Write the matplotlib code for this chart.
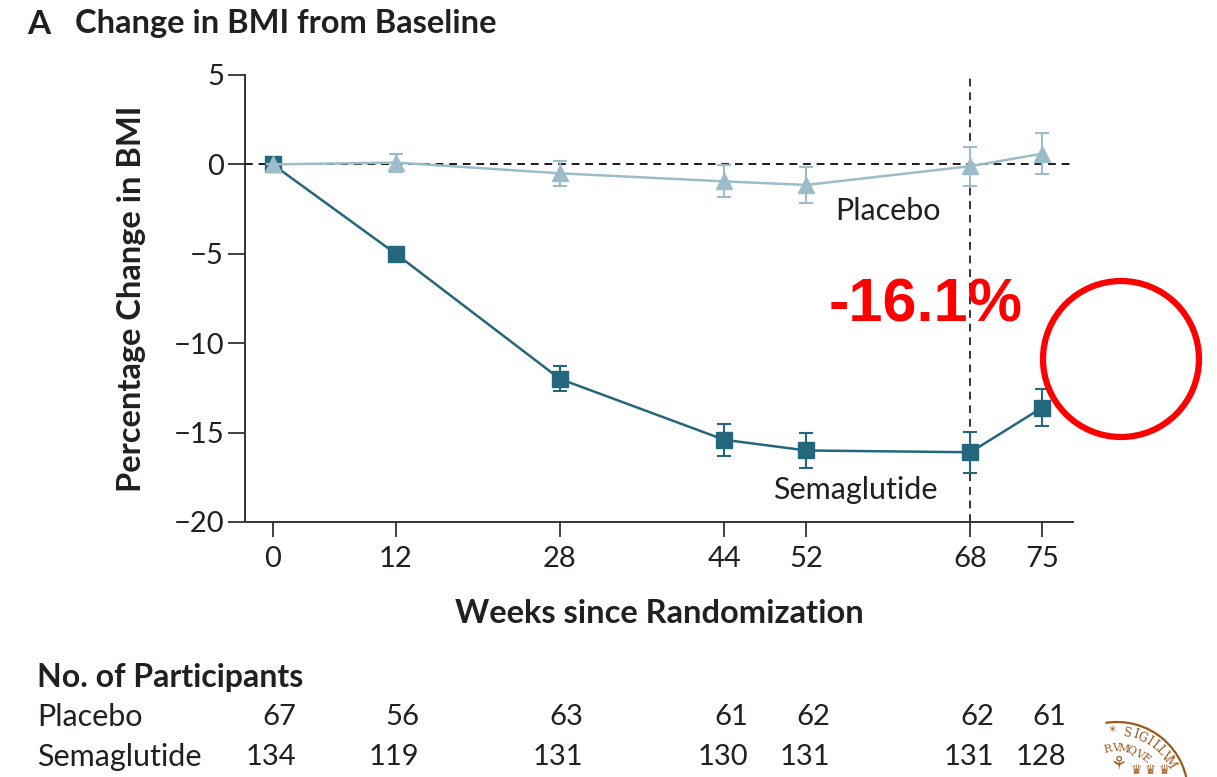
import numpy as np
import matplotlib
matplotlib.use("Agg")
import matplotlib.pyplot as plt
from matplotlib.patches import Ellipse, Arc
from matplotlib.transforms import blended_transform_factory

plt.rcParams['font.family'] = ['Lato', 'DejaVu Sans']

# Mean percentage change in BMI (with error bars) by visit week
weeks = [0, 12, 28, 44, 52, 68, 75]
placebo_mean = [0.0, 0.1, -0.5, -0.95, -1.15, -0.1, 0.6]
placebo_err = [0.0, 0.5, 0.7, 0.9, 1.0, 1.1, 1.15]
sema_mean = [0.0, -5.0, -12.0, -15.4, -16.0, -16.1, -13.6]
sema_err = [0.0, 0.3, 0.7, 0.9, 1.0, 1.15, 1.05]

# Participants at each visit
placebo_n = [67, 56, 63, 61, 62, 62, 61]
sema_n = [134, 119, 131, 130, 131, 131, 128]

yticks = [5, 0, -5, -10, -15, -20]
highlight_label = "-16.1%"

TXT = '#231f20'
SEMA_C = '#24667c'
PLAC_C = '#9bbcc8'

W, H = 1217, 777
fig = plt.figure(figsize=(W / 100, H / 100), dpi=100)
ax = fig.add_axes([0.2013, 0.3282, 0.6804, 0.5753])

ax.axhline(0, color='#1a1a1a', lw=1.4, ls=(0, (4, 3)), zorder=1)
ax.axvline(68, color='#333333', lw=1.4, ls=(0, (4, 3)), zorder=1)

ax.errorbar(weeks, sema_mean, yerr=sema_err, fmt='-s', color=SEMA_C,
            ms=11, lw=1.8, elinewidth=1.5, capsize=5, capthick=1.5, zorder=3)
ax.errorbar(weeks, placebo_mean, yerr=placebo_err, fmt='-^', color=PLAC_C,
            ms=12, lw=1.8, elinewidth=1.5, capsize=5, capthick=1.5, zorder=4)

ax.set_xlim(-2.7, 78.0)
ax.set_ylim(-20, 5)
ax.set_xticks(weeks)
ax.set_yticks(yticks)
ax.tick_params(axis='both', colors='#333333', labelcolor=TXT, labelsize=21, width=1.3)
ax.tick_params(axis='y', length=12, pad=3)
ax.tick_params(axis='x', length=11, pad=6)
for s in ['top', 'right']:
    ax.spines[s].set_visible(False)
for s in ['left', 'bottom']:
    ax.spines[s].set_linewidth(1.4)
    ax.spines[s].set_color('#333333')

ax.set_ylabel('Percentage Change in BMI', fontsize=23.5, fontweight='bold', color=TXT, labelpad=20)
ax.set_xlabel('Weeks since Randomization', fontsize=23.5, fontweight='bold', color=TXT, labelpad=20)

ax.text(60.0, -2.6, 'Placebo', fontsize=22, color=TXT, ha='center', va='center')
ax.text(56.8, -18.2, 'Semaglutide', fontsize=22, color=TXT, ha='center', va='center')

ax.text(63.6, -7.9, highlight_label, fontsize=44, fontweight='bold', color='#ff0000',
        family=['Liberation Sans', 'DejaVu Sans'], ha='center', va='center', zorder=5)

# Title
fig.text(27 / W, 1 - 24 / H, 'A', fontsize=24, fontweight='bold', color=TXT, va='center')
fig.text(75 / W, 1 - 24 / H, 'Change in BMI from Baseline', fontsize=23.5,
         fontweight='bold', color=TXT, va='center')

# Participant table
fig.text(37 / W, 1 - 678 / H, 'No. of Participants', fontsize=23, fontweight='bold',
         color=TXT, va='center')
fig.text(37 / W, 1 - 717 / H, 'Placebo', fontsize=22, color=TXT, va='center')
fig.text(37 / W, 1 - 757 / H, 'Semaglutide', fontsize=22, color=TXT, va='center')
trans = blended_transform_factory(ax.transData, fig.transFigure)
for w, n in zip(weeks, placebo_n):
    ax.text(w + 2.3, 1 - 717 / H, str(n), transform=trans, fontsize=21, color=TXT,
            ha='right', va='center', clip_on=False)
for w, n in zip(weeks, sema_n):
    ax.text(w + 2.3, 1 - 757 / H, str(n), transform=trans, fontsize=21, color=TXT,
            ha='right', va='center', clip_on=False)

# Red highlight circle
fig.patches.append(Ellipse((1121 / W, 1 - 359 / H), 156 / W, 156 / H, transform=fig.transFigure,
                           fill=False, edgecolor='#ff0000', lw=4.5))

# Seal emblem in the corner (cropped at its left)
brown = '#9a5a1c'
cx, cy, R = 1117, 793, 71
fig.patches.append(Arc((cx / W, 1 - cy / H), 2 * R / W, 2 * R / H, theta1=0, theta2=96,
                       transform=fig.transFigure, edgecolor=brown, lw=1.6))


def ring_text(word, radius, a_start, a_end, size):
    angs = np.linspace(a_start, a_end, len(word))
    for ch, a in zip(word, angs):
        t = np.deg2rad(a)
        x = cx + radius * np.cos(t)
        y = cy - radius * np.sin(t)
        fig.text(x / W, 1 - y / H, ch, fontsize=size, color=brown, ha='center', va='center',
                 rotation=a - 90, family=['DejaVu Serif'])


ring_text('* SIGILLVM', 61, 94, 30, 8.5)
ring_text('RVMQVE', 45, 102, 50, 8.0)
for x in [1136, 1150, 1164]:
    fig.text(x / W, 1 - 770 / H, '\u265b', fontsize=9, color=brown, ha='center', va='center',
             family=['DejaVu Sans'])
fig.text(1118 / W, 1 - 764 / H, '\u2698', fontsize=13, color=brown, ha='center', va='center',
         family=['DejaVu Sans'])

fig.savefig('out.png', dpi=100)
